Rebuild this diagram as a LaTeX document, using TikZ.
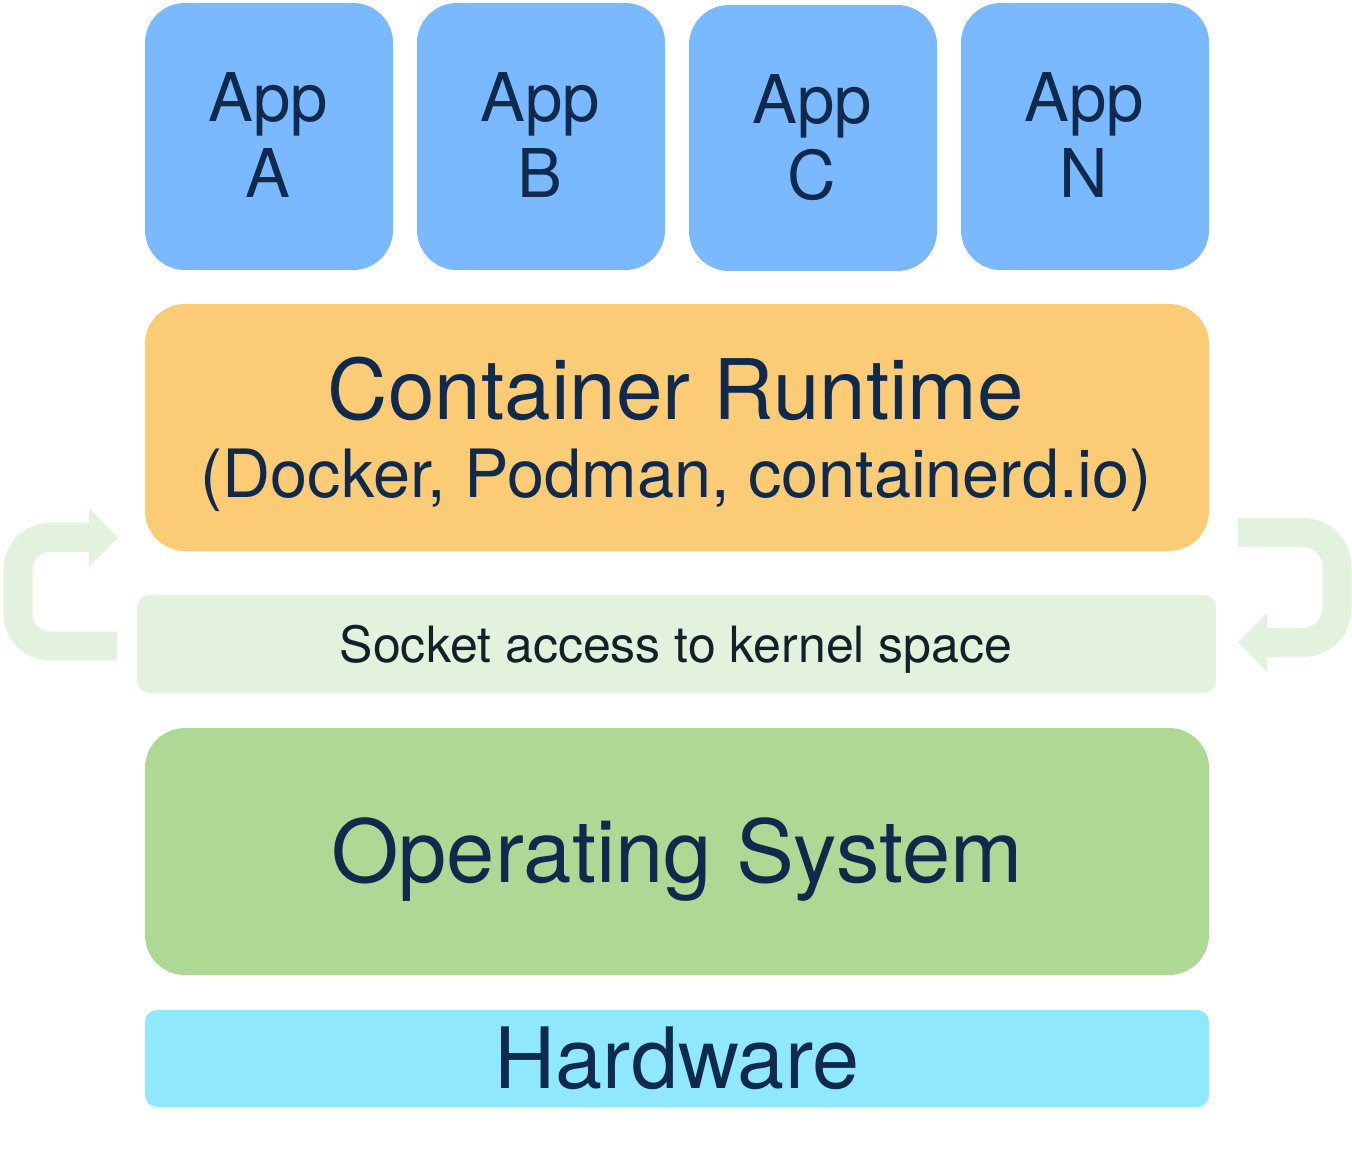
\documentclass[tikz,border=0pt]{standalone}
\usepackage{fontspec}
\setmainfont{TeX Gyre Heros}
\definecolor{appblue}{HTML}{7AB8FF}
\definecolor{runorange}{HTML}{FCCB76}
\definecolor{sockgreen}{HTML}{E3F2DC}
\definecolor{osgreen}{HTML}{ADD994}
\definecolor{hwcyan}{HTML}{8FE8FE}
\definecolor{navy}{HTML}{0F2A4D}
\definecolor{darktext}{HTML}{12202A}
\tikzset{
  layerbox/.style={rectangle, draw=none, inner sep=0pt, rounded corners=20pt},
  flatbox/.style={rectangle, draw=none, inner sep=0pt, rounded corners=6pt},
  labeltext/.style={anchor=base, inner sep=0pt, text=navy},
  apptext/.style={labeltext, font=\fontsize{33.6}{38}\selectfont},
  socktext/.style={anchor=base, inner sep=0pt, text=darktext, font=\fontsize{25}{30}\selectfont},
  loop/.style={draw=sockgreen, line width=14.5pt},
}
\begin{document}
\begin{tikzpicture}[x=0.5pt, y=-0.5pt]
\useasboundingbox (0,0) rectangle (1352,1159);
% App boxes
\node[layerbox, fill=appblue, minimum width=124pt, minimum height=133.5pt] (appA) at (269,136.5) {};
\node[layerbox, fill=appblue, minimum width=124pt, minimum height=133.5pt] (appB) at (541,136.5) {};
\node[layerbox, fill=appblue, minimum width=124pt, minimum height=133pt] (appC) at (813,138) {};
\node[layerbox, fill=appblue, minimum width=124pt, minimum height=133.5pt] (appN) at (1085,136.5) {};
\node[apptext] (appAl1) at (268,122) {App};
\node[apptext] (appAl2) at (268,198) {A};
\node[apptext] (appBl1) at (540,122) {App};
\node[apptext] (appBl2) at (540,198) {B};
\node[apptext] (appCl1) at (812,124) {App};
\node[apptext] (appCl2) at (812,200) {C};
\node[apptext] (appNl1) at (1084,122) {App};
\node[apptext] (appNl2) at (1084,198) {N};
% Container runtime
\node[layerbox, fill=runorange, minimum width=532pt, minimum height=123.5pt] (runtime) at (677,427.5) {};
\node[labeltext, font=\fontsize{41.8}{48}\selectfont] (runl1) at (676,420) {Container Runtime};
\node[labeltext, font=\fontsize{33.3}{40}\selectfont] (runl2) at (676,498) {(Docker, Podman, containerd.io)};
% Socket
\node[flatbox, fill=sockgreen, minimum width=539.5pt, minimum height=49pt] (socket) at (676.5,644) {};
\node[socktext] (sockl) at (676,662) {Socket access to kernel space};
% OS
\node[layerbox, fill=osgreen, minimum width=532pt, minimum height=123.5pt] (os) at (677,851.5) {};
\node[labeltext, font=\fontsize{43.4}{50}\selectfont] (osl) at (677,882) {Operating System};
% Hardware
\node[flatbox, fill=hwcyan, minimum width=532pt, minimum height=48.5pt] (hw) at (677,1058.5) {};
\node[labeltext, font=\fontsize{42.3}{50}\selectfont] (hwl) at (677,1088) {Hardware};
% Loop arrows
\draw[loop, rounded corners=16pt] (117,646) -- (18,646) -- (18,537.5) -- (90,537.5);
\fill[sockgreen] (89,508) -- (118,537.5) -- (89,567) -- cycle;
\draw[loop, rounded corners=17pt] (1238,532.5) -- (1337,532.5) -- (1337,642.5) -- (1266,642.5);
\fill[sockgreen] (1267,613) -- (1238,642.5) -- (1267,672) -- cycle;
\end{tikzpicture}
\end{document}
